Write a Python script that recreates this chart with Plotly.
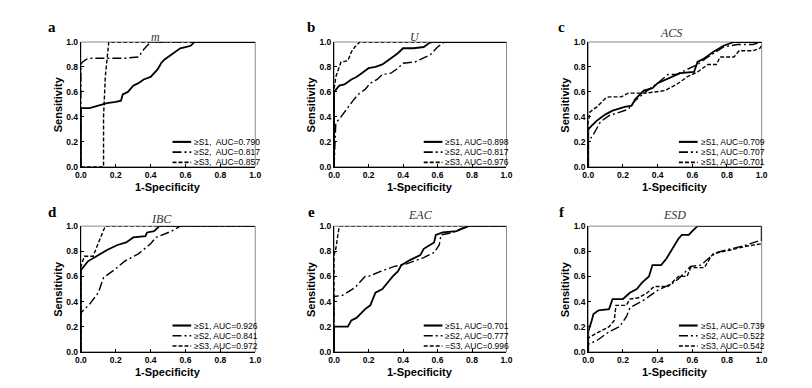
import plotly.graph_objects as go

# ---- data (1-Specificity, Sensitivity) ----
a_s1_x = [0, 0, 0.05, 0.1, 0.15, 0.2, 0.23, 0.24, 0.27, 0.3, 0.33, 0.36, 0.4, 0.42, 0.44, 0.46, 0.48, 0.51, 0.54, 0.57, 0.6, 0.63, 0.65, 1.0]
a_s1_y = [0, 0.47, 0.47, 0.49, 0.51, 0.52, 0.53, 0.58, 0.6, 0.65, 0.67, 0.7, 0.72, 0.75, 0.78, 0.83, 0.86, 0.89, 0.92, 0.95, 0.96, 0.97, 1.0, 1.0]
a_s2_x = [0, 0, 0.01, 0.03, 0.06, 0.15, 0.25, 0.33, 0.36, 0.4, 1.0]
a_s2_y = [0, 0.82, 0.84, 0.86, 0.87, 0.87, 0.87, 0.88, 0.94, 1.0, 1.0]
a_s3_x = [0, 0.13, 0.13, 0.14, 0.16, 1.0]
a_s3_y = [0, 0, 0.4, 0.72, 1.0, 1.0]

b_s1_x = [0, 0, 0.03, 0.06, 0.1, 0.13, 0.16, 0.2, 0.24, 0.28, 0.31, 0.34, 0.37, 0.4, 0.46, 0.52, 0.55, 0.57, 1.0]
b_s1_y = [0, 0.6, 0.65, 0.66, 0.7, 0.72, 0.75, 0.79, 0.8, 0.82, 0.85, 0.88, 0.91, 0.95, 0.95, 0.96, 0.99, 1.0, 1.0]
b_s2_x = [0, 0.01, 0.04, 0.08, 0.11, 0.14, 0.18, 0.21, 0.25, 0.28, 0.33, 0.37, 0.4, 0.47, 0.52, 0.56, 0.6, 0.64, 1.0]
b_s2_y = [0, 0.35, 0.4, 0.48, 0.53, 0.58, 0.62, 0.67, 0.7, 0.74, 0.75, 0.79, 0.83, 0.84, 0.87, 0.9, 0.96, 1.0, 1.0]
b_s3_x = [0, 0, 0.01, 0.03, 0.04, 0.08, 0.1, 0.12, 0.15, 1.0]
b_s3_y = [0, 0.62, 0.72, 0.8, 0.84, 0.85, 0.92, 0.96, 1.0, 1.0]

c_s1_x = [0, 0, 0.02, 0.05, 0.08, 0.1, 0.14, 0.21, 0.25, 0.27, 0.32, 0.37, 0.4, 0.47, 0.53, 0.61, 0.63, 0.67, 0.72, 0.78, 0.84, 1.0]
c_s1_y = [0, 0.3, 0.33, 0.37, 0.4, 0.42, 0.45, 0.48, 0.49, 0.54, 0.61, 0.63, 0.67, 0.71, 0.75, 0.76, 0.84, 0.87, 0.92, 0.97, 1.0, 1.0]
c_s2_x = [0, 0, 0.03, 0.07, 0.12, 0.23, 0.27, 0.34, 0.4, 0.46, 0.51, 0.57, 0.63, 0.69, 0.78, 0.86, 0.95, 1.0]
c_s2_y = [0, 0.2, 0.26, 0.36, 0.41, 0.46, 0.53, 0.61, 0.67, 0.74, 0.74, 0.78, 0.82, 0.88, 0.96, 0.98, 0.98, 1.0]
c_s3_x = [0, 0, 0.01, 0.05, 0.1, 0.12, 0.19, 0.23, 0.33, 0.44, 0.51, 0.57, 0.63, 0.69, 0.74, 0.76, 0.84, 0.87, 0.95, 0.99, 1.0]
c_s3_y = [0, 0.36, 0.44, 0.48, 0.55, 0.56, 0.56, 0.59, 0.59, 0.61, 0.66, 0.72, 0.76, 0.82, 0.82, 0.88, 0.88, 0.93, 0.93, 0.95, 0.97]

d_s1_x = [0, 0, 0.04, 0.09, 0.15, 0.21, 0.26, 0.3, 0.37, 0.38, 0.42, 0.45, 1.0]
d_s1_y = [0, 0.65, 0.72, 0.76, 0.81, 0.85, 0.87, 0.91, 0.92, 0.95, 0.96, 1.0, 1.0]
d_s2_x = [0, 0, 0.05, 0.1, 0.13, 0.19, 0.25, 0.33, 0.4, 0.43, 0.52, 0.57, 1.0]
d_s2_y = [0, 0.31, 0.38, 0.47, 0.59, 0.65, 0.72, 0.78, 0.86, 0.91, 0.96, 1.0, 1.0]
d_s3_x = [0, 0, 0.02, 0.07, 0.11, 0.14, 1.0]
d_s3_y = [0, 0.68, 0.76, 0.76, 0.9, 1.0, 1.0]

e_s1_x = [0, 0, 0.08, 0.1, 0.13, 0.15, 0.18, 0.21, 0.23, 0.24, 0.28, 0.31, 0.34, 0.37, 0.39, 0.44, 0.5, 0.52, 0.56, 0.58, 0.59, 0.63, 0.71, 0.75, 0.78, 1.0]
e_s1_y = [0, 0.2, 0.2, 0.25, 0.27, 0.3, 0.34, 0.37, 0.43, 0.47, 0.5, 0.55, 0.6, 0.64, 0.69, 0.73, 0.77, 0.82, 0.85, 0.87, 0.93, 0.95, 0.96, 0.98, 1.0, 1.0]
e_s2_x = [0, 0, 0.05, 0.12, 0.18, 0.2, 0.27, 0.35, 0.42, 0.52, 0.58, 0.61, 0.62, 0.69, 0.77, 1.0]
e_s2_y = [0, 0.44, 0.45, 0.51, 0.6, 0.6, 0.64, 0.68, 0.7, 0.75, 0.79, 0.85, 0.93, 0.95, 1.0, 1.0]
e_s3_x = [0, 0, 0.01, 0.02, 0.03, 1.0]
e_s3_y = [0, 0.77, 0.82, 0.9, 1.0, 1.0]

f_s1_x = [0, 0, 0.02, 0.03, 0.06, 0.12, 0.14, 0.2, 0.24, 0.28, 0.31, 0.35, 0.37, 0.42, 0.45, 0.48, 0.52, 0.54, 0.58, 0.6, 0.63, 1.0, 1.0]
f_s1_y = [0, 0.16, 0.25, 0.3, 0.33, 0.34, 0.42, 0.42, 0.47, 0.5, 0.55, 0.6, 0.69, 0.69, 0.74, 0.81, 0.9, 0.93, 0.93, 0.96, 1.0, 1.0, 0.88]
f_s2_x = [0, 0, 0.05, 0.12, 0.18, 0.22, 0.24, 0.33, 0.4, 0.48, 0.52, 0.56, 0.59, 0.65, 0.7, 0.74, 0.82, 0.91, 1.0]
f_s2_y = [0, 0.06, 0.09, 0.16, 0.2, 0.28, 0.35, 0.42, 0.49, 0.54, 0.58, 0.64, 0.68, 0.69, 0.75, 0.79, 0.82, 0.85, 0.89]
f_s3_x = [0, 0, 0.05, 0.12, 0.15, 0.16, 0.22, 0.24, 0.29, 0.34, 0.38, 0.46, 0.52, 0.57, 0.59, 0.67, 0.7, 0.72, 0.82, 0.91, 1.0]
f_s3_y = [0, 0.11, 0.15, 0.2, 0.25, 0.37, 0.37, 0.42, 0.43, 0.47, 0.52, 0.52, 0.6, 0.6, 0.67, 0.67, 0.74, 0.78, 0.81, 0.84, 0.86]

panel_letters = ["a", "b", "c", "d", "e", "f"]
panel_titles = ["m", "U", "ACS", "IBC", "EAC", "ESD"]
legend_labels = [
    ["≥S1,  AUC=0.790", "≥S2,  AUC=0.817", "≥S3,  AUC=0.857"],
    ["≥S1, AUC=0.898", "≥S2, AUC=0.817", "≥S3, AUC=0.976"],
    ["≥S1, AUC=0.709", "≥S1, AUC=0.707", "≥S1, AUC=0.701"],
    ["≥S1, AUC=0.926", "≥S2, AUC=0.841", "≥S3, AUC=0.972"],
    ["≥S1, AUC=0.701", "≥S2, AUC=0.777", "=S3, AUC=0.996"],
    ["≥S1, AUC=0.739", "≥S2, AUC=0.522", "≥S3, AUC=0.542"],
]
curves = [
    [(a_s1_x, a_s1_y), (a_s2_x, a_s2_y), (a_s3_x, a_s3_y)],
    [(b_s1_x, b_s1_y), (b_s2_x, b_s2_y), (b_s3_x, b_s3_y)],
    [(c_s1_x, c_s1_y), (c_s2_x, c_s2_y), (c_s3_x, c_s3_y)],
    [(d_s1_x, d_s1_y), (d_s2_x, d_s2_y), (d_s3_x, d_s3_y)],
    [(e_s1_x, e_s1_y), (e_s2_x, e_s2_y), (e_s3_x, e_s3_y)],
    [(f_s1_x, f_s1_y), (f_s2_x, f_s2_y), (f_s3_x, f_s3_y)],
]

W, H = 812, 388
col_px = [(76, 253), (333, 508), (591, 767)]
row_px = [(38, 166), (227, 356)]
letter_dx = [29, 23, 27]                        # letter centre, px left of the y axis
title_x = [0.43, 0.47, 0.48, 0.46, 0.5, 0.5]    # panel title centre, in axis fraction
title_dy = [5, 5, 9, 7, 11, 11]                 # panel title centre, px above the top
legend_rows = [[25.5, 15, 4.5], [27, 16.5, 6]]  # px above the x axis
dashes = ["solid", "9px,3px,2px,3px", "4px,2px"]
widths = [1.8, 1.4, 1.4]
SANS = "Arial, Liberation Sans, sans-serif"
SERIF = "Times New Roman, Liberation Serif, serif"

fig = go.Figure()
layout = dict(width=W, height=H, margin=dict(l=0, r=0, t=0, b=0),
              paper_bgcolor="white", plot_bgcolor="white", showlegend=False)
annotations = []
shapes = []
bold11 = dict(family=SANS, size=11, color="black", weight="bold")

for i in range(6):
    r, c = divmod(i, 3)
    n = "" if i == 0 else str(i + 1)
    x0, x1 = col_px[c][0] / W, col_px[c][1] / W
    y0, y1 = 1 - row_px[r][1] / H, 1 - row_px[r][0] / H
    pw = col_px[c][1] - col_px[c][0]
    ph = row_px[r][1] - row_px[r][0]
    xd, yd = "x" + n + " domain", "y" + n + " domain"

    for k, (xs, ys) in enumerate(curves[i]):
        fig.add_trace(go.Scatter(
            x=xs, y=ys, mode="lines", name=legend_labels[i][k],
            line=dict(color="black", width=widths[k], dash=dashes[k]),
            xaxis="x" + n, yaxis="y" + n))
        # legend entry: short line sample + label, bottom right inside the panel
        ly = legend_rows[r][k] / ph
        shapes.append(dict(type="line", xref=xd, yref=yd, x0=1 - 84 / pw, x1=1 - 65 / pw,
                           y0=ly, y1=ly, line=dict(color="black", width=widths[k] + 0.3, dash=dashes[k])))
        annotations.append(dict(text=legend_labels[i][k], xref=xd, yref=yd, x=1 - 63 / pw, y=ly,
                                xanchor="left", yanchor="middle", showarrow=False, borderpad=0,
                                font=dict(family=SANS, size=8.5, color="black")))

    axis_common = dict(range=[0, 1], tickvals=[0, 0.2, 0.4, 0.6, 0.8, 1.0],
                       ticktext=["0.0", "0.2", "0.4", "0.6", "0.8", "1.0"],
                       showgrid=False, zeroline=False, showline=True,
                       linecolor="black", linewidth=1.2, ticks="inside",
                       ticklen=3, tickwidth=1, tickcolor="black",
                       tickfont=dict(family=SANS, size=8.5, color="black", weight="bold"))
    layout["xaxis" + n] = dict(axis_common, domain=[x0, x1], anchor="y" + n)
    layout["yaxis" + n] = dict(axis_common, domain=[y0, y1], anchor="x" + n)

    shapes.append(dict(type="rect", xref=xd, yref=yd, x0=0, x1=1, y0=0, y1=1,
                       line=dict(color="#8a8a8a", width=1), layer="below"))
    annotations.append(dict(text="1-Specificity", xref=xd, yref=yd, x=0.5, y=0,
                            xanchor="center", yanchor="middle", yshift=-20,
                            showarrow=False, borderpad=0, font=bold11))
    annotations.append(dict(text="Sensitivity", xref=xd, yref=yd, x=0, y=0.5,
                            xanchor="center", yanchor="middle", xshift=-23, textangle=-90,
                            showarrow=False, borderpad=0, font=bold11))
    annotations.append(dict(text=panel_letters[i], xref="paper", yref="paper",
                            x=x0 - letter_dx[c] / W, y=y1 + 15 / H, xanchor="center", yanchor="middle",
                            showarrow=False,
                            font=dict(family=SERIF, size=15, color="black", weight="bold")))
    annotations.append(dict(text=panel_titles[i], xref=xd, yref=yd,
                            x=title_x[i], y=1.0, xanchor="center", yanchor="middle", yshift=title_dy[i],
                            showarrow=False, borderpad=0,
                            font=dict(family=SERIF, size=12, color="#333333", style="italic")))

layout["annotations"] = annotations
layout["shapes"] = shapes
fig.update_layout(**layout)

fig.write_html("out.html", config={"displayModeBar": False},
               post_script="document.body.style.margin='0px';")
